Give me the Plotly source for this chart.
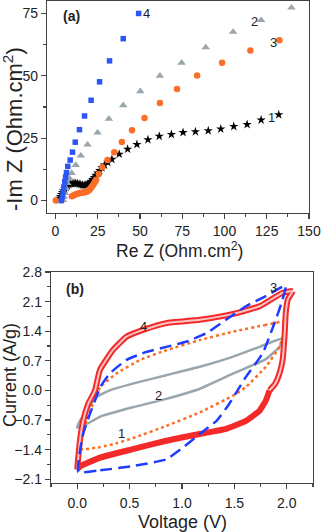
import plotly.graph_objects as go

# ---------------- Panel (a): Nyquist plot ----------------
s1_x = [2.0, 2.5, 3.0, 3.6, 4.2, 4.8, 5.5, 6.3, 7.1, 8.0, 9.0, 10.0, 11.0, 12.0, 13.0, 14.0, 15.0, 16.0,
        17.0, 18.0, 19.0, 20.0, 21.0, 22.0, 23.0, 24.0, 25.0, 26.2, 27.5, 29.0, 31.0, 33.4, 37.7, 42.7,
        48.2, 54.7, 61.4, 68.6, 75.5, 82.8, 90.4, 97.8, 105.5, 113.4, 121.7, 132.1]
s1_y = [0.3, 0.9, 1.6, 2.4, 3.2, 3.9, 4.6, 5.3, 5.9, 6.4, 6.7, 6.9, 7.0, 6.9, 6.8, 6.6, 6.4, 6.2,
        6.1, 6.2, 6.5, 7.0, 7.6, 8.4, 9.2, 10.1, 11.0, 12.0, 13.1, 14.2, 15.3, 16.5, 18.6, 20.6,
        22.5, 24.4, 25.8, 26.5, 27.3, 27.6, 28.0, 28.7, 29.7, 30.5, 32.3, 34.4]

s2_x = [4.5, 5.0, 5.5, 6.2, 7.0, 8.3, 9.6, 12.0, 15.0, 19.0, 24.9, 31.6, 40.1, 50.2, 61.8, 74.6, 88.9,
        105.1, 121.7, 139.6]
s2_y = [0.2, 1.5, 3.0, 5.0, 7.0, 8.8, 11.0, 14.2, 18.0, 22.4, 27.2, 32.7, 38.2, 43.8, 50.0, 55.2, 61.4,
        67.6, 72.3, 77.3]

s3_x = [0.2, 9.7, 10.6, 11.5, 12.5, 13.5, 14.5, 15.5, 16.5, 17.5, 18.5, 19.3, 20.1, 20.8, 21.5, 22.2,
        22.9, 23.5, 24.1, 25.7, 27.7, 30.8, 34.8, 39.3, 45.3, 52.7, 61.8, 71.9, 83.8, 98.6, 115.3, 132.5]
s3_y = [0.0, 1.7, 2.0, 2.3, 2.6, 2.8, 3.0, 3.1, 3.2, 3.3, 3.5, 3.8, 4.3, 4.9, 5.5, 6.2,
        6.9, 7.6, 8.3, 10.6, 13.3, 16.2, 19.4, 23.5, 28.2, 33.1, 39.1, 44.7, 50.1, 55.2, 60.2, 64.3]

s4_x = [3.5, 4.0, 4.5, 5.0, 5.5, 6.0, 6.5, 7.3, 8.7, 10.1, 11.7, 14.2, 17.2, 21.1, 26.1, 32.0, 40.1, 49.2]
s4_y = [0.0, 1.6, 3.5, 5.5, 7.5, 9.4, 11.2, 13.7, 16.2, 19.4, 23.4, 28.4, 33.9, 40.2, 47.6, 56.0, 64.9, 75.0]

a_labels = ["1", "2", "3", "4"]
a_label_x = [127.6, 117.7, 128.8, 53.7]
a_label_y = [33.4, 71.9, 63.2, 75.0]

# ---------------- Panel (b): CV curves ----------------
c1_v = [1.99, 1.80, 1.49, 1.17, 0.85, 0.60, 0.375, 0.22, 0.15, 0.09, 0.04, 0.02,
        0.22, 0.375, 0.53, 0.85, 1.17, 1.49, 1.61, 1.80, 1.93, 1.98, 1.99]
c1_i = [1.63, 1.55, 1.39, 1.19, 0.95, 0.72, 0.40, 0.08, -0.32, -0.72, -1.03, -1.39,
        -1.34, -1.25, -1.13, -0.84, -0.52, -0.12, 0.08, 0.56, 1.03, 1.43, 1.63]

c2_v = [1.96, 1.74, 1.49, 1.17, 0.85, 0.53, 0.31, 0.18, 0.09, 0.026, 0.0,
        0.06, 0.22, 0.53, 0.85, 1.17, 1.49, 1.80, 1.93, 1.96]
c2_i = [1.23, 1.03, 0.80, 0.56, 0.36, 0.16, 0.0, -0.16, -0.48, -0.72, -0.88,
        -0.84, -0.62, -0.40, -0.20, 0.04, 0.40, 0.74, 1.03, 1.23]

c3_v = [0.01, 0.22, 0.53, 0.85, 1.01, 1.17, 1.33, 1.45, 1.53, 1.61, 1.77, 1.87, 1.95, 1.99,
        1.80, 1.61, 1.42, 1.23, 1.04, 0.85, 0.66, 0.47, 0.31, 0.22, 0.17, 0.12, 0.057, 0.026, 0.01]
c3_i = [-1.93, -1.89, -1.79, -1.63, -1.35, -1.03, -0.72, -0.32, 0.0, 0.32, 0.88, 1.51, 2.07, 2.48,
        2.23, 1.99, 1.67, 1.35, 1.15, 1.03, 0.91, 0.72, 0.40, 0.08, -0.24, -0.56, -1.03, -1.43, -1.93]

# curve 4: anodic (upper) branch, steep cathodic part at 2 V, and lower cathodic branch
c4_up_v = [0.0, 0.01, 0.026, 0.057, 0.105, 0.17, 0.216, 0.34, 0.47, 0.63, 0.85, 1.17, 1.49, 1.74,
           1.96, 2.06]
c4_up_i = [-1.87, -1.59, -1.19, -0.72, -0.32, 0.0, 0.48, 0.95, 1.27, 1.43, 1.59, 1.67, 1.81, 1.99,
           2.31, 2.35]
c4_turn_v = [2.06, 2.04, 2.01, 1.99, 1.98, 1.96, 1.93, 1.89, 1.835]
c4_turn_i = [2.35, 2.28, 2.15, 1.83, 1.35, 0.72, 0.40, 0.16, 0.0]
c4_dn_v = [1.835, 1.80, 1.74, 1.61, 1.42, 1.17, 0.85, 0.53, 0.22, 0.03, 0.0]
c4_dn_i = [0.0, -0.24, -0.48, -0.72, -0.91, -1.03, -1.19, -1.39, -1.59, -1.79, -1.87]

b_labels = ["1", "2", "3", "4"]
b_label_v = [0.42, 0.78, 1.876, 0.635]
b_label_i = [-1.02, -0.12, 2.43, 1.51]

# ---------------- Figure ----------------
fig = go.Figure()

FONT = "Liberation Sans, Arial, sans-serif"
C_BLUE = "#2b55f5"
C_GRAY = "#9aa6ad"
C_ORANGE = "#fa6e28"
C_RED = "#f42a2a"
C_PINK = "#f8c4c4"
C_DBLUE = "#1f3cff"
C_TXT = "#222222"
C_AX = "#444444"

fig.add_trace(go.Scatter(x=s1_x, y=s1_y, mode="markers", xaxis="x", yaxis="y",
                         marker=dict(symbol="star", size=7, color="black")))
fig.add_trace(go.Scatter(x=s2_x, y=s2_y, mode="markers", xaxis="x", yaxis="y",
                         marker=dict(symbol="triangle-up", size=7.5, color=C_GRAY)))
fig.add_trace(go.Scatter(x=s3_x, y=s3_y, mode="markers", xaxis="x", yaxis="y",
                         marker=dict(symbol="circle", size=6.5, color=C_ORANGE)))
fig.add_trace(go.Scatter(x=s4_x, y=s4_y, mode="markers", xaxis="x", yaxis="y",
                         marker=dict(symbol="square", size=5.5, color=C_BLUE)))

# panel b
SM = 0.4
fig.add_trace(go.Scatter(x=c2_v, y=c2_i, mode="lines", xaxis="x2", yaxis="y2",
                         line=dict(color=C_GRAY, width=2.5, shape="spline", smoothing=SM)))
fig.add_trace(go.Scatter(x=c1_v, y=c1_i, mode="lines", xaxis="x2", yaxis="y2",
                         line=dict(color=C_ORANGE, width=2.5, dash="dot", shape="spline", smoothing=SM)))
fig.add_trace(go.Scatter(x=c4_dn_v, y=c4_dn_i, mode="lines", xaxis="x2", yaxis="y2",
                         line=dict(color=C_RED, width=6, shape="spline", smoothing=SM)))
for vv, ii in ((c4_up_v, c4_up_i), (c4_turn_v, c4_turn_i)):
    fig.add_trace(go.Scatter(x=vv, y=ii, mode="lines", xaxis="x2", yaxis="y2",
                             line=dict(color=C_RED, width=6, shape="spline", smoothing=SM)))
for vv, ii in ((c4_up_v, c4_up_i), (c4_turn_v, c4_turn_i)):
    fig.add_trace(go.Scatter(x=vv, y=ii, mode="lines", xaxis="x2", yaxis="y2",
                             line=dict(color=C_PINK, width=2, shape="spline", smoothing=SM)))
fig.add_trace(go.Scatter(x=c3_v, y=c3_i, mode="lines", xaxis="x2", yaxis="y2",
                         line=dict(color=C_DBLUE, width=2.5, dash="12px,6px", shape="spline", smoothing=SM)))

axis_common = dict(showline=True, linecolor=C_AX, linewidth=1.2, mirror=True, ticks="outside",
                   ticklen=5, tickwidth=1.2, tickcolor=C_AX, showgrid=False, zeroline=False,
                   automargin=False,
                   tickfont=dict(family=FONT, size=14, color=C_TXT))

annotations = []
for t, x, y in zip(a_labels, a_label_x, a_label_y):
    annotations.append(dict(text=t, x=x, y=y, xref="x", yref="y", showarrow=False,
                            font=dict(family=FONT, size=13, color=C_TXT)))
for t, x, y in zip(b_labels, b_label_v, b_label_i):
    annotations.append(dict(text=t, x=x, y=y, xref="x2", yref="y2", showarrow=False,
                            font=dict(family=FONT, size=13, color=C_TXT)))
annotations += [
    dict(text="<b>(a)</b>", xref="paper", yref="paper", x=61/322, y=1 - 16/532, showarrow=False,
         xanchor="left", yanchor="middle", font=dict(family=FONT, size=14, color=C_TXT)),
    dict(text="<b>(b)</b>", xref="paper", yref="paper", x=64/322, y=1 - 289/532, showarrow=False,
         xanchor="left", yanchor="middle", font=dict(family=FONT, size=14, color=C_TXT)),
    dict(text="Re Z (Ohm.cm<sup>2</sup>)", xref="paper", yref="paper", x=179/322, y=1 - 237/532,
         showarrow=False, xanchor="center", yanchor="top", font=dict(family=FONT, size=17.5, color=C_TXT)),
    dict(text="-Im Z (Ohm.cm<sup>2</sup>)", xref="paper", yref="paper", x=13/322, y=1 - 129/532,
         showarrow=False, textangle=-90, xanchor="center", yanchor="middle",
         font=dict(family=FONT, size=22, color=C_TXT)),
    dict(text="Voltage (V)", xref="paper", yref="paper", x=182/322, y=1 - 510/532,
         showarrow=False, xanchor="center", yanchor="top", font=dict(family=FONT, size=18, color=C_TXT)),
    dict(text="Current (A/g)", xref="paper", yref="paper", x=10/322, y=1 - 375/532,
         showarrow=False, textangle=-90, xanchor="center", yanchor="middle",
         font=dict(family=FONT, size=18, color=C_TXT)),
]

fig.update_layout(
    width=322, height=532, margin=dict(l=0, r=0, t=0, b=0, autoexpand=False),
    paper_bgcolor="white", plot_bgcolor="white", showlegend=False,
    xaxis=dict(axis_common, domain=[47/322, 309/322], range=[-5, 150], tickmode="linear", tick0=0, dtick=25,
               minor=dict(ticks="outside", ticklen=3, tickcolor=C_AX, dtick=12.5, tick0=0),
               anchor="y"),
    yaxis=dict(axis_common, domain=[1 - 213/532, 1 - 1/532], range=[-5, 80], tickmode="linear", tick0=0, dtick=25,
               minor=dict(ticks="outside", ticklen=3, tickcolor=C_AX, dtick=12.5, tick0=0),
               anchor="x"),
    xaxis2=dict(axis_common, domain=[51/322, 313/322], range=[-0.25, 2.25], tickmode="linear", tick0=0, dtick=0.5,
                tickformat=".1f", ticklabelstandoff=2,
                minor=dict(ticks="outside", ticklen=3, tickcolor=C_AX, dtick=0.25, tick0=0),
                anchor="y2"),
    yaxis2=dict(axis_common, domain=[1 - 483/532, 1 - 272/532], range=[-2.19, 2.8], tickmode="linear", tick0=0, dtick=0.7,
                tickformat=".1f",
                minor=dict(ticks="outside", ticklen=3, tickcolor=C_AX, dtick=0.35, tick0=0),
                anchor="x2"),
    annotations=annotations,
)

fig.write_html("out.html", config={"displayModeBar": False, "staticPlot": True},
               post_script="document.body.style.margin='0px';document.body.style.padding='0px';"
                           "document.body.style.overflow='hidden';")
